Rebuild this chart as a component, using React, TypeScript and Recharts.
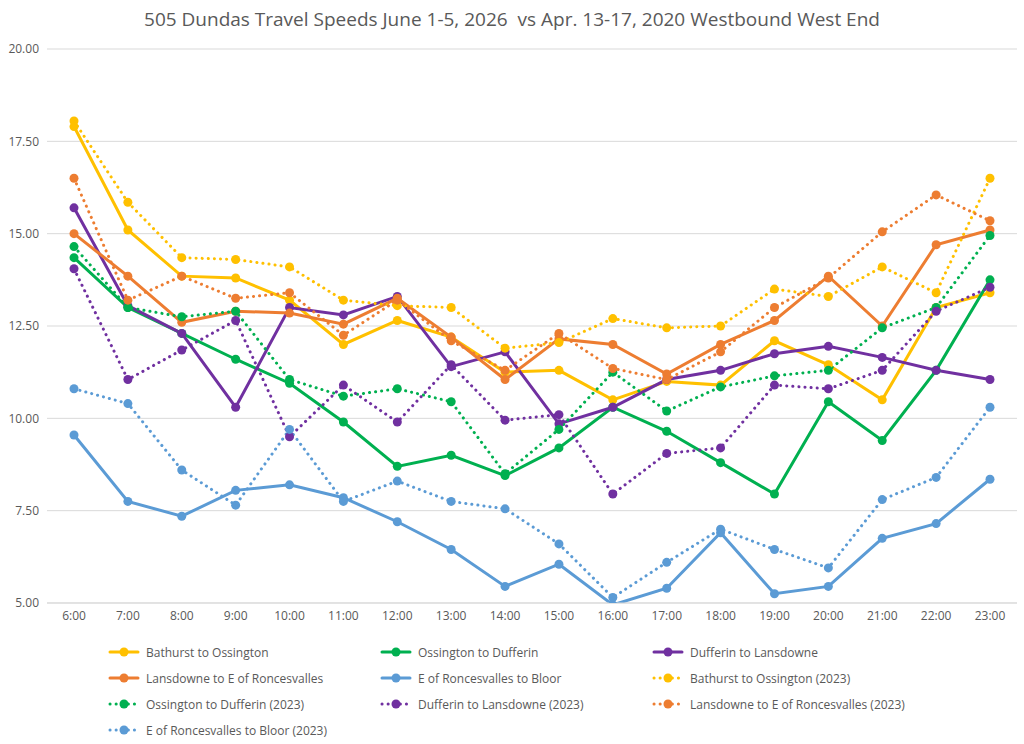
import React from 'react';
import { LineChart, Line, XAxis, YAxis, CartesianGrid } from 'recharts';

const hours = ['6:00', '7:00', '8:00', '9:00', '10:00', '11:00', '12:00', '13:00', '14:00', '15:00', '16:00', '17:00', '18:00', '19:00', '20:00', '21:00', '22:00', '23:00'];

const bathurst = [17.9, 15.1, 13.85, 13.8, 13.2, 12.0, 12.65, 12.2, 11.25, 11.3, 10.5, 11.0, 10.9, 12.1, 11.45, 10.5, 13.0, 13.4];
const ossington = [14.35, 13.0, 12.3, 11.6, 10.95, 9.9, 8.7, 9.0, 8.45, 9.2, 10.3, 9.65, 8.8, 7.95, 10.45, 9.4, 11.3, 13.75];
const dufferin = [15.7, 13.05, 12.3, 10.3, 13.0, 12.8, 13.3, 11.4, 11.8, 9.85, 10.3, 11.05, 11.3, 11.75, 11.95, 11.65, 11.3, 11.05];
const lansdowne = [15.0, 13.85, 12.6, 12.9, 12.85, 12.55, 13.25, 12.2, 11.05, 12.15, 12.0, 11.2, 12.0, 12.65, 13.85, 12.5, 14.7, 15.1];
const roncesvalles = [9.55, 7.75, 7.35, 8.05, 8.2, 7.85, 7.2, 6.45, 5.45, 6.05, 4.95, 5.4, 6.9, 5.25, 5.45, 6.75, 7.15, 8.35];
const bathurst23 = [18.05, 15.85, 14.35, 14.3, 14.1, 13.2, 13.05, 13.0, 11.9, 12.05, 12.7, 12.45, 12.5, 13.5, 13.3, 14.1, 13.4, 16.5];
const ossington23 = [14.65, 13.0, 12.75, 12.9, 11.05, 10.6, 10.8, 10.45, 8.5, 9.7, 11.25, 10.2, 10.85, 11.15, 11.3, 12.45, 13.0, 14.95];
const dufferin23 = [14.05, 11.05, 11.85, 12.65, 9.5, 10.9, 9.9, 11.45, 9.95, 10.1, 7.95, 9.05, 9.2, 10.9, 10.8, 11.3, 12.9, 13.55];
const lansdowne23 = [16.5, 13.2, 13.85, 13.25, 13.4, 12.25, 13.2, 12.1, 11.3, 12.3, 11.35, 11.05, 11.8, 13.0, 13.8, 15.05, 16.05, 15.35];
const roncesvalles23 = [10.8, 10.4, 8.6, 7.65, 9.7, 7.75, 8.3, 7.75, 7.55, 6.6, 5.15, 6.1, 7.0, 6.45, 5.95, 7.8, 8.4, 10.3];

const yTicks = [5, 7.5, 10, 12.5, 15, 17.5, 20];

const series = [
  { key: 'b', name: 'Bathurst to Ossington', values: bathurst, color: '#FFC000', dotted: false },
  { key: 'o', name: 'Ossington to Dufferin', values: ossington, color: '#00B050', dotted: false },
  { key: 'd', name: 'Dufferin to Lansdowne', values: dufferin, color: '#7030A0', dotted: false },
  { key: 'l', name: 'Lansdowne to E of Roncesvalles', values: lansdowne, color: '#ED7D31', dotted: false },
  { key: 'r', name: 'E of Roncesvalles to Bloor', values: roncesvalles, color: '#5B9BD5', dotted: false },
  { key: 'b23', name: 'Bathurst to Ossington (2023)', values: bathurst23, color: '#FFC000', dotted: true },
  { key: 'o23', name: 'Ossington to Dufferin (2023)', values: ossington23, color: '#00B050', dotted: true },
  { key: 'd23', name: 'Dufferin to Lansdowne (2023)', values: dufferin23, color: '#7030A0', dotted: true },
  { key: 'l23', name: 'Lansdowne to E of Roncesvalles (2023)', values: lansdowne23, color: '#ED7D31', dotted: true },
  { key: 'r23', name: 'E of Roncesvalles to Bloor (2023)', values: roncesvalles23, color: '#5B9BD5', dotted: true },
];

const data = hours.map((h, i) => {
  const row: any = { hour: h };
  series.forEach((s) => (row[s.key] = s.values[i]));
  return row;
});

const font = 'Open Sans, Calibri, sans-serif';

export default function App() {
  return (
    <div style={{ position: 'absolute', left: 0, top: 0, width: 1024, height: 744, background: '#fff', fontFamily: font }}>
      <div style={{ position: 'absolute', top: 6, width: 1024, textAlign: 'center', fontSize: 19, color: '#595959' }}>
        505 Dundas Travel Speeds June 1-5, 2026&nbsp; vs Apr. 13-17, 2020 Westbound West End
      </div>
      <LineChart width={1024} height={744} data={data} margin={{ top: 49, right: 7, left: 7, bottom: 111 }}>
        <CartesianGrid vertical={false} stroke="#d9d9d9" />
        <XAxis dataKey="hour" padding={{ left: 27, right: 27 }} axisLine={{ stroke: '#d9d9d9' }} tickLine={false}
          tick={{ fill: '#595959', fontSize: 12, fontFamily: font }} height={30} />
        <YAxis domain={[5, 20]} ticks={yTicks} allowDataOverflow width={40} axisLine={false} tickLine={false}
          tickFormatter={(v: number) => v.toFixed(2)} tick={{ fill: '#595959', fontSize: 12, fontFamily: font }} />
        {series.map((s) => (
          <Line key={s.key} dataKey={s.key} type="linear" stroke={s.color} strokeWidth={3}
            strokeDasharray={s.dotted ? '0.1 6' : undefined} strokeLinecap="round"
            dot={{ r: 4.5, fill: s.color, stroke: s.color, strokeWidth: 0, strokeDasharray: '' }}
            isAnimationActive={false} />
        ))}
      </LineChart>
      <div style={{ position: 'absolute', left: 108, top: 643, width: 900, display: 'grid', gridTemplateColumns: '272px 272px 300px', rowGap: 8, fontSize: 12, color: '#595959' }}>
        {series.map((s) => (
          <div key={s.key} style={{ display: 'flex', alignItems: 'center', height: 18 }}>
            <svg width={32} height={12} style={{ marginRight: 6 }}>
              <line x1={2} y1={6} x2={30} y2={6} stroke={s.color} strokeWidth={3} strokeLinecap="round" strokeDasharray={s.dotted ? '0.1 6' : undefined} />
              <circle cx={16} cy={6} r={4.5} fill={s.color} />
            </svg>
            {s.name}
          </div>
        ))}
      </div>
    </div>
  );
}
